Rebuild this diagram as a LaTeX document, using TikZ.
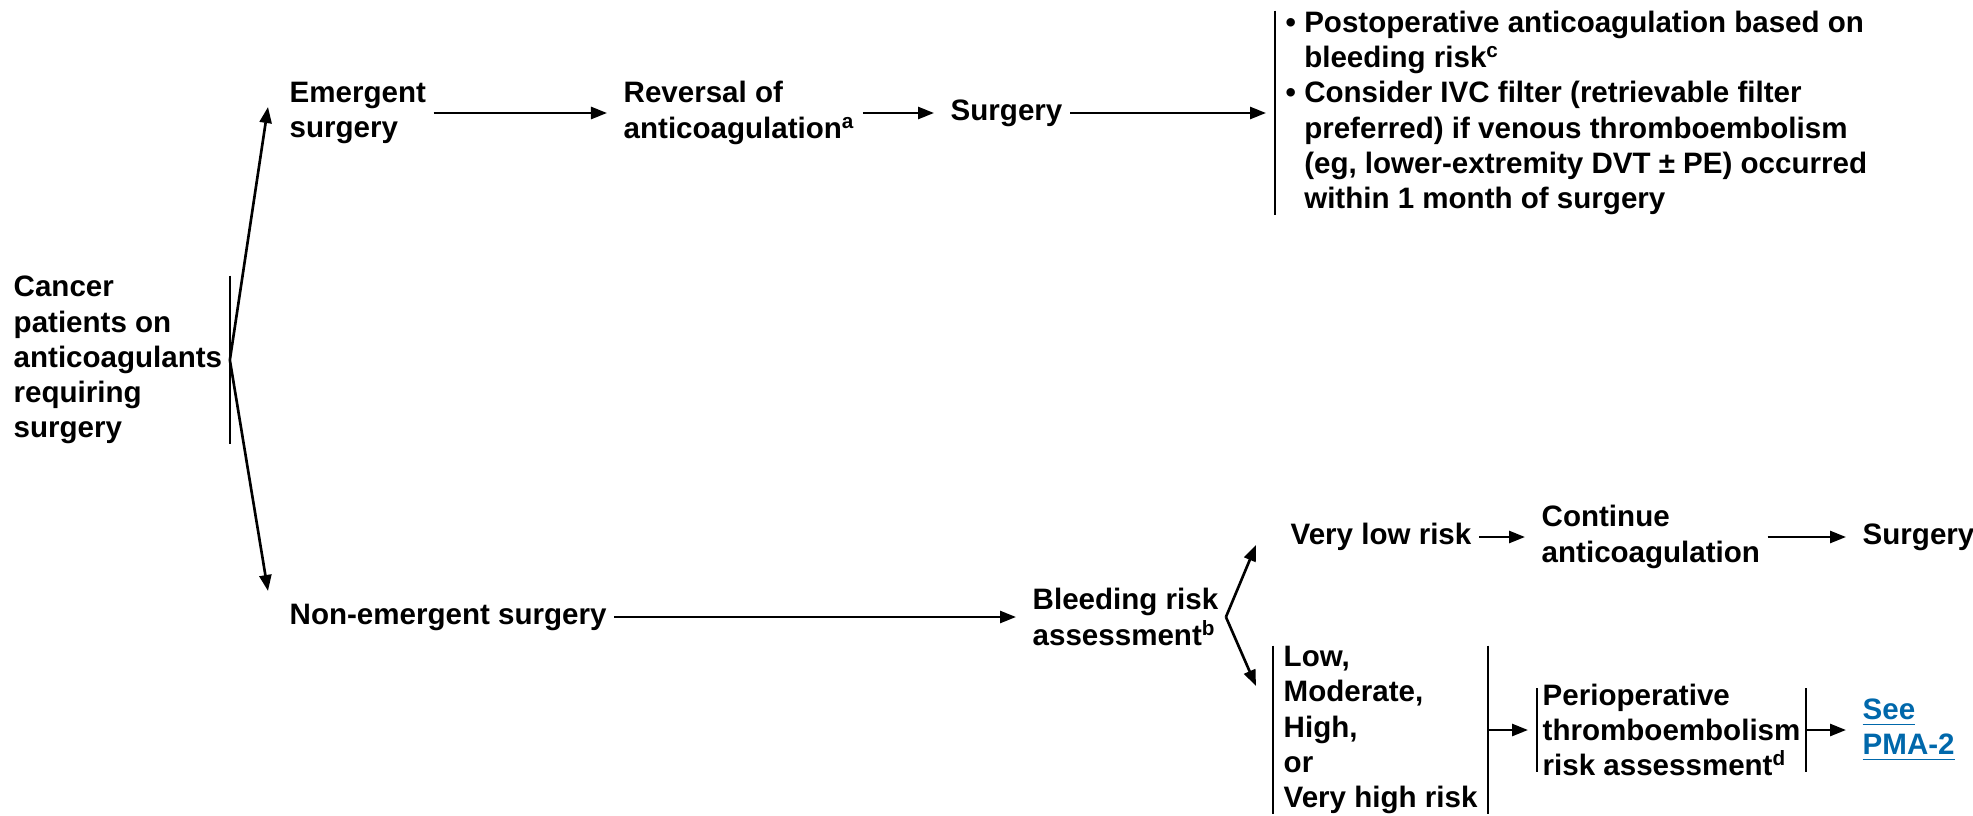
\documentclass[tikz,border=0pt]{standalone}
\usepackage{fontspec}
\setmainfont{Liberation Sans}
\usetikzlibrary{positioning}
\usetikzlibrary{arrows.meta}
\definecolor{linkblue}{RGB}{0,104,171}

\begin{document}
\begin{tikzpicture}
 [ x=0.01cm, y=-0.01cm
 , every node/.style={font=\fontsize{8.4}{10}\selectfont\bfseries, align=left, anchor=west, inner xsep=0.07cm, inner ysep=0pt}
 , arr/.style={-{Triangle[length=0.16cm,width=0.12cm]}, line width=0.75pt, shorten >=0.09cm}
 , fork/.style={arr, shorten >=0pt}
 , bar/.style={line width=0.6pt}
 , barnode/.style={inner xsep=0.1cm}
 ]
  \useasboundingbox (0,0) rectangle (1973,815);

  % starting point
  \node (cancer) at (6,360) {Cancer\\patients on\\anticoagulants\\requiring\\surgery};

  % emergent branch
  \node (emer)  at (282,113) {Emergent\\surgery};
  \node (rev)   at (616,113) {Reversal of\\anticoagulation\textsuperscript{a}};
  \node (surg1) at (943,113) {Surgery};
  \node [barnode] (post) at (1275,113)
    {\textbullet\ Postoperative anticoagulation based on\\
     \hphantom{\textbullet\ }bleeding risk\textsuperscript{c}\\
     \textbullet\ Consider IVC filter (retrievable filter\\
     \hphantom{\textbullet\ }preferred) if venous thromboembolism\\
     \hphantom{\textbullet\ }(eg, lower-extremity DVT ± PE) occurred\\
     \hphantom{\textbullet\ }within 1 month of surgery};

  % non-emergent branch
  \node (nonem) at (282,617) {Non-emergent surgery};
  \node (bleed) at (1025,617) {Bleeding risk\\assessment\textsuperscript{b}};
  \node (vlow)  at (1283,537) {Very low risk};
  \node (cont)  at (1534,537) {Continue\\anticoagulation};
  \node (surg2) at (1855,537) {Surgery};
  \node [barnode] (low) at (1273,730) {Low,\\Moderate,\\High,\\or\\Very high risk};
  \node [inner xsep=0.05cm] (peri) at (1537,730) {Perioperative\\thromboembolism\\risk assessment\textsuperscript{d}};
  \node [text=linkblue] (see) at (1855,730) {\underline{See}\\\underline{PMA-2}};

  % side bars
  \draw [bar] (cancer.north east) -- (cancer.south east);
  \draw [bar] (post.north west) -- (post.south west);
  \draw [bar] (low.north west) -- (low.south west);
  \draw [bar] (low.north east) -- (low.south east);
  \draw [bar, shorten <=0.05cm, shorten >=0.05cm] (peri.north west) -- (peri.south west);
  \draw [bar, shorten <=0.05cm, shorten >=0.05cm] (peri.north east) -- (peri.south east);

  % forks
  \draw [fork] (cancer.east) -- ([xshift=-0.14cm,yshift=0.06cm]emer.west);
  \draw [fork] (cancer.east) -- ([xshift=-0.14cm,yshift=0.26cm]nonem.west);
  \draw [fork] (bleed.east) -- ([xshift=-0.27cm,yshift=-0.08cm]vlow.west);
  \draw [fork] (bleed.east) -- ([xshift=-0.17cm,yshift=0.44cm]low.west);

  \draw [arr] (emer.east) -- (rev.west);
  \draw [arr] (rev.east) -- (surg1.west);
  \draw [arr] (surg1.east) -- (post.west);
  \draw [arr] (nonem.east) -- (bleed.west);
  \draw [arr] (vlow.east) -- (cont.west);
  \draw [arr] (cont.east) -- (surg2.west);
  \draw [arr] (low.east) -- (peri.west);
  \draw [arr] (peri.east) -- (see.west);
\end{tikzpicture}
\end{document}
